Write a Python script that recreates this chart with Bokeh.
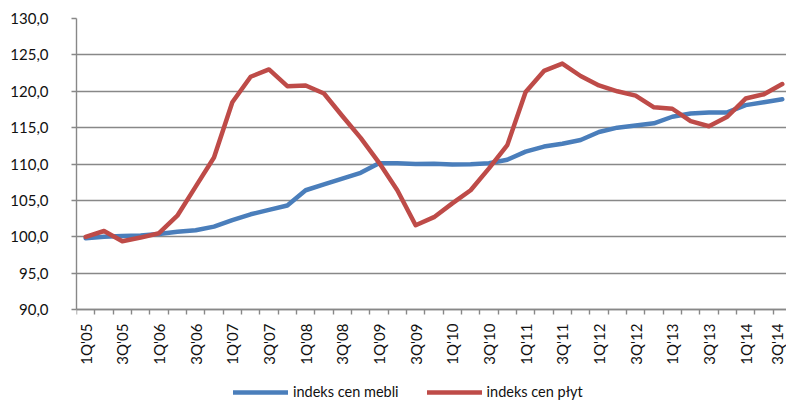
from bokeh.plotting import figure
from bokeh.models import Range1d, FixedTicker, Legend, LegendItem
from bokeh.embed import file_html
from bokeh.resources import INLINE
import math

# Quarterly index values (1Q'05 = 100)
quarters = [
    "1Q'05", "2Q'05", "3Q'05", "4Q'05",
    "1Q'06", "2Q'06", "3Q'06", "4Q'06",
    "1Q'07", "2Q'07", "3Q'07", "4Q'07",
    "1Q'08", "2Q'08", "3Q'08", "4Q'08",
    "1Q'09", "2Q'09", "3Q'09", "4Q'09",
    "1Q'10", "2Q'10", "3Q'10", "4Q'10",
    "1Q'11", "2Q'11", "3Q'11", "4Q'11",
    "1Q'12", "2Q'12", "3Q'12", "4Q'12",
    "1Q'13", "2Q'13", "3Q'13", "4Q'13",
    "1Q'14", "2Q'14", "3Q'14",
]
meble = [
    99.8, 100.0, 100.1, 100.2,
    100.4, 100.7, 100.9, 101.4,
    102.3, 103.1, 103.7, 104.3,
    106.4, 107.2, 108.0, 108.8,
    110.1, 110.1, 110.0, 110.05,
    109.95, 109.97, 110.1, 110.6,
    111.7, 112.4, 112.8, 113.3,
    114.4, 115.0, 115.3, 115.6,
    116.5, 116.95, 117.1, 117.1,
    118.1, 118.5, 118.9,
]
plyty = [
    100.0, 100.8, 99.4, 99.9,
    100.5, 102.9, 106.9, 110.9,
    118.5, 122.0, 123.0, 120.7,
    120.8, 119.7, 116.6, 113.6,
    110.2, 106.4, 101.6, 102.7,
    104.6, 106.4, 109.4, 112.6,
    119.9, 122.8, 123.8, 122.1,
    120.8, 120.0, 119.4, 117.8,
    117.6, 115.9, 115.2, 116.5,
    119.0, 119.6, 121.0,
]
y_ticks = [90, 95, 100, 105, 110, 115, 120, 125, 130]

x = list(range(1, len(quarters) + 1))
GRID = "#888888"
FONT = "Lato"
Y_MIN, Y_MAX = 90, 130

# The frame runs down to the bottom of the page so the legend under the
# quarter labels sits inside it; the x axis is pinned at the 90 line.
p = figure(
    width=786, height=403,
    x_range=Range1d(0.5, 39.23), y_range=Range1d(77.1, Y_MAX),
    output_backend="svg", toolbar_location=None,
    min_border_left=76, min_border_right=0,
    min_border_top=18, min_border_bottom=0,
)
p.outline_line_color = None
p.background_fill_color = "white"
p.border_fill_color = "white"

# horizontal grid
p.xgrid.grid_line_color = None
p.ygrid.ticker = FixedTicker(ticks=y_ticks)
p.ygrid.grid_line_color = GRID
p.ygrid.grid_line_width = 1.4

# y axis
p.yaxis.ticker = FixedTicker(ticks=y_ticks)
p.yaxis.bounds = (Y_MIN, Y_MAX)
p.yaxis.major_label_overrides = {v: f"{v:.1f}".replace(".", ",") for v in y_ticks}
p.yaxis.axis_line_color = GRID
p.yaxis.axis_line_width = 1.4
p.yaxis.major_tick_line_color = GRID
p.yaxis.major_tick_line_width = 1.4
p.yaxis.major_tick_out = 5
p.yaxis.major_tick_in = 0
p.yaxis.minor_tick_line_color = None
p.yaxis.major_label_standoff = 23
p.yaxis.major_label_text_font = FONT
p.yaxis.major_label_text_font_size = "15px"
p.yaxis.major_label_text_color = "#111111"

# x axis: labels on every second quarter, tick marks between quarters
label_pos = x[::2]
p.xaxis.fixed_location = Y_MIN
p.xaxis.ticker = FixedTicker(ticks=label_pos,
                             minor_ticks=[i + 0.5 for i in range(0, len(quarters) + 1)])
p.xaxis.major_label_overrides = {i: quarters[i - 1] for i in label_pos}
p.xaxis.major_label_orientation = math.pi / 2
p.xaxis.axis_line_color = GRID
p.xaxis.axis_line_width = 1.4
p.xaxis.major_tick_line_color = None
p.xaxis.minor_tick_line_color = GRID
p.xaxis.minor_tick_line_width = 1.4
p.xaxis.minor_tick_out = 5
p.xaxis.minor_tick_in = 0
p.xaxis.major_label_standoff = 8
p.xaxis.major_label_text_font = FONT
p.xaxis.major_label_text_font_size = "15px"
p.xaxis.major_label_text_color = "#111111"

r_meble = p.line(x, meble, line_color="#4A7EBB", line_width=4.5,
                 line_join="round", line_cap="round")
r_plyty = p.line(x, plyty, line_color="#BE4B48", line_width=4.5,
                 line_join="round", line_cap="round")

legend = Legend(
    items=[LegendItem(label="indeks cen mebli", renderers=[r_meble]),
           LegendItem(label="indeks cen płyt", renderers=[r_plyty])],
    orientation="horizontal",
    location=(157, 3),
    padding=0, margin=0, spacing=28,
    glyph_width=55, glyph_height=16, label_height=16,
    label_standoff=5,
    label_text_font=FONT, label_text_font_size="14.5px",
    label_text_color="#111111",
    border_line_color=None, background_fill_alpha=0,
)
p.add_layout(legend, "center")

open("out.html", "w").write(file_html(p, INLINE))
